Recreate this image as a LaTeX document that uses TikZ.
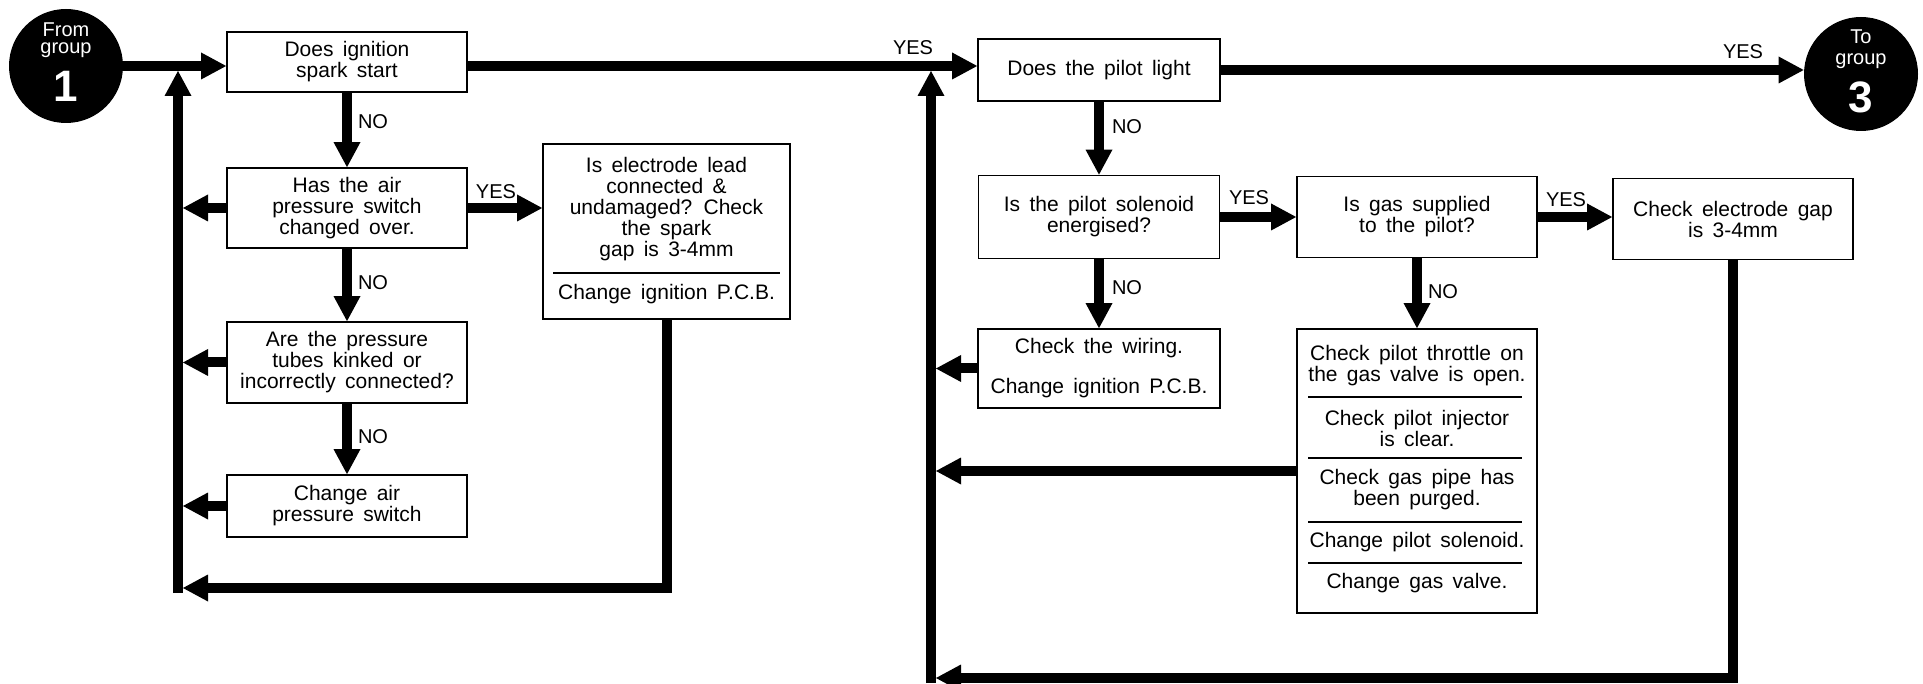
\documentclass[tikz,border=0pt]{standalone}
\usepackage{fontspec}
\setmainfont{Liberation Sans}[WordSpace=1.6]
\usetikzlibrary{arrows.meta,calc}
\newcommand{\boxfont}{\fontsize{10.5}{10.5}\selectfont}
\newcommand{\labfont}{\fontsize{10}{10}\selectfont}
\begin{document}
\begin{tikzpicture}[x=0.5pt,y=-0.5pt,
  box/.style={draw, line width=0.9pt, inner sep=0pt, align=center, font=\boxfont},
  txt/.style={inner sep=0pt, align=center, font=\boxfont},
  flow/.style={line width=5pt, -{Triangle[length=12.5pt,width=13.5pt,line width=0pt]}},
  lab/.style={inner sep=0pt, font=\labfont},
  grp/.style={circle, fill=black, minimum size=57pt, inner sep=0pt},
  grptxt/.style={text=white, inner sep=0pt, font=\fontsize{10}{10}\selectfont},
  grpnum/.style={text=white, inner sep=0pt, font=\fontsize{22}{22}\selectfont\bfseries},
  sep/.style={line width=0.9pt}]
\useasboundingbox (0,0) rectangle (1923,684);

% group circles
\node[grp] (c1) at (66,66) {};
\node[grptxt] (c1a) at ($(c1)+(0,-36)$) {From};
\node[grptxt] (c1b) at ($(c1)+(0,-16)$) {group};
\node[grpnum] (c1c) at ($(c1)+(0,20)$) {1};
\node[grp] (c3) at (1861,74) {};
\node[grptxt] (c3a) at ($(c3)+(0,-37)$) {To};
\node[grptxt] (c3b) at ($(c3)+(0,-13)$) {group};
\node[grpnum] (c3c) at ($(c3)+(0,23)$) {3};

% left boxes
\node[box, minimum width=120pt, minimum height=30pt] (b1) at (347,62) {Does ignition\\spark start};
\node[box, minimum width=120pt, minimum height=40pt] (b2) at (347,208) {Has the air\\pressure switch\\changed over.};
\node[box, minimum width=123.5pt, minimum height=87.5pt] (b3) at (666.5,231.5) {};
\node[txt] (b3a) at (666.5,209) {Is electrode lead\\connected \&\\undamaged? Check\\the spark\\gap is 3-4mm};
\draw[sep] (553,273) -- (780,273);
\node[txt] (b3b) at (666.5,294) {Change ignition P.C.B.};
\node[box, minimum width=120pt, minimum height=40.5pt] (b4) at (347,362.5) {Are the pressure\\tubes kinked or\\incorrectly connected?};
\node[box, minimum width=120pt, minimum height=31pt] (b5) at (347,506) {Change air\\pressure switch};

% right boxes
\node[box, minimum width=121pt, minimum height=31pt] (b6) at (1099,70) {Does the pilot light};
\node[box, minimum width=120.5pt, minimum height=41.5pt] (b7) at (1099,217) {Is the pilot solenoid\\energised?};
\node[box, minimum width=120pt, minimum height=40.5pt] (b8) at (1417,217) {Is gas supplied\\to the pilot?};
\node[box, minimum width=120pt, minimum height=40.5pt] (b9) at (1733,219) {Check electrode gap\\is 3-4mm};
\node[box, minimum width=121pt, minimum height=39.5pt] (b10) at (1099,368.5) {Check the wiring.\\[9.5pt]Change ignition P.C.B.};
\node[box, minimum width=120pt, minimum height=142pt] (b11) at (1417,471) {};
\node[txt] (b11a) at (1417,365.5) {Check pilot throttle on\\the gas valve is open.};
\draw[sep] (1308,397) -- (1522,397);
\node[txt] (b11b) at (1417,428) {Check pilot injector\\is clear.};
\draw[sep] (1308,458) -- (1522,458);
\node[txt] (b11c) at (1417,490) {Check gas pipe has\\been purged.};
\draw[sep] (1308,522) -- (1522,522);
\node[txt] (b11d) at (1417,542) {Change pilot solenoid.};
\draw[sep] (1308,563) -- (1522,563);
\node[txt] (b11e) at (1417,583) {Change gas valve.};

% return-line coordinates
\coordinate (LB) at (178,593);
\coordinate (LT) at (178,71);
\coordinate (LX) at (183,588);
\coordinate (RB) at (931,683);
\coordinate (RT) at (931,71);
\coordinate (RX) at (936,678);

% main flow
\draw[flow] (c1.east |- c1.center) -- (c1.center -| b1.west);
\draw[flow] (b1.east |- c1.center) -- (b6.west |- c1.center);
\draw[flow] (b6.east) -- (b6.east -| c3.west);

% left part
\draw[flow] (b1.south) -- (b2.north);
\draw[flow] (b2.south) -- (b4.north);
\draw[flow] (b4.south) -- (b5.north);
\draw[flow] (b2.east) -- (b2.east -| b3.west);
\draw[flow] (LB) -- (LT);
\draw[flow] (b2.west) -- (b2.west -| LX);
\draw[flow] (b4.west) -- (b4.west -| LX);
\draw[flow] (b5.west) -- (b5.west -| LX);
\draw[flow] (b3.south) |- (LX);

% right part
\draw[flow] (b6.south) -- (b7.north);
\draw[flow] (b7.east) -- (b8.west);
\draw[flow] (b8.east) -- (b8.east -| b9.west);
\draw[flow] (b7.south) -- (b10.north);
\draw[flow] (b8.south) -- (b11.north);
\draw[flow] (RB) -- (RT);
\draw[flow] (b10.west) -- (b10.west -| RX);
\draw[flow] (b11.west) -- (b11.west -| RX);
\draw[flow] (b9.south) |- (RX);

% labels
\node[lab] (yes1) at (913,48) {YES};
\node[lab] (no1) at (373,122) {NO};
\node[lab] (yes2) at (496,192) {YES};
\node[lab] (no2) at (373,283) {NO};
\node[lab] (no3) at (373,437) {NO};
\node[lab] (yes3) at (1743,52) {YES};
\node[lab] (no4) at (1127,127) {NO};
\node[lab] (yes4) at (1249,198) {YES};
\node[lab] (yes5) at (1566,200) {YES};
\node[lab] (no5) at (1127,288) {NO};
\node[lab] (no6) at (1443,292) {NO};
\end{tikzpicture}
\end{document}
